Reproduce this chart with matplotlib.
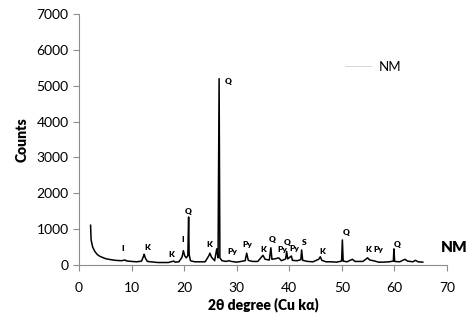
import matplotlib
matplotlib.use("Agg")
import matplotlib.pyplot as plt

# XRD pattern (2theta, counts)
two_theta = [2.2, 2.3, 2.6, 3.0, 3.5, 4.0, 5.0, 6.0, 7.0, 8.0, 8.8, 9.0, 10.0, 11.0,
             11.9, 12.25, 12.4, 12.6, 13.0, 15.0, 17.0, 18.0, 18.3, 19.0, 19.6, 19.85,
             20.1, 20.4, 20.7, 20.85, 20.95, 21.2, 22.0, 24.0, 24.7, 24.9, 25.2, 25.8,
             26.2, 26.45, 26.65, 26.8, 27.2, 28.0, 28.5, 29.0, 30.0, 31.6, 31.9, 32.2,
             33.0, 34.0, 34.7, 35.0, 35.4, 36.2, 36.5, 36.7, 37.5, 38.0, 38.5, 39.3,
             39.5, 39.7, 40.2, 40.4, 40.6, 41.5, 42.2, 42.35, 42.55, 43.5, 44.5, 45.6,
             45.9, 46.2, 47.0, 48.0, 49.0, 49.95, 50.1, 50.25, 51.0, 52.0, 52.5, 54.0,
             54.9, 55.3, 56.0, 57.0, 58.0, 59.0, 59.8, 59.9, 60.05, 61.0, 62.0, 62.5,
             63.5, 64.0, 64.5, 65.4]
counts = [1110, 700, 500, 380, 290, 240, 180, 150, 130, 120, 140, 115, 100, 90,
          110, 240, 300, 200, 100, 70, 70, 110, 80, 90, 220, 400,
          260, 200, 260, 1340, 300, 120, 90, 90, 260, 330, 220, 120,
          450, 200, 5200, 200, 120, 100, 120, 100, 80, 120, 330, 130,
          100, 100, 220, 270, 160, 140, 480, 160, 180, 200, 120, 170,
          380, 170, 230, 250, 130, 120, 150, 420, 130, 100, 90, 160,
          230, 130, 90, 90, 80, 110, 700, 110, 90, 160, 100, 100,
          200, 140, 120, 80, 80, 90, 110, 450, 100, 90, 160, 110,
          90, 130, 90, 80]

# phase labels (text, 2theta, counts)
phase_text = ["I", "K", "K", "I", "Q", "K", "Q", "Py", "Py", "K", "Q", "Py", "Q",
              "Py", "S", "K", "Q", "K", "Py", "Q"]
phase_x = [8.3, 12.9, 17.6, 19.7, 20.8, 24.7, 28.3, 29.2, 32.1, 35.0, 36.7, 38.6,
           39.6, 41.0, 42.8, 46.2, 50.8, 55.1, 57.0, 60.5]
phase_y = [470, 500, 300, 700, 1500, 560, 5120, 390, 560, 420, 700, 420,
           640, 450, 620, 390, 920, 420, 420, 560]

plt.rcParams['font.family'] = ['Lato', 'DejaVu Sans']

fig = plt.figure(figsize=(4.72, 3.28), dpi=100)
ax = fig.add_axes([0.1674, 0.192, 0.7796, 0.765])

ax.plot(two_theta, counts, color="black", linewidth=1.1, label="NM")

for t, x, y in zip(phase_text, phase_x, phase_y):
    ax.text(x, y, t, fontsize=6, fontweight="heavy", ha="center", va="center")

ax.text(71.3, 500, "NM", fontsize=11, fontweight="heavy", ha="center", va="center", clip_on=False)

ax.set_xlim(0, 70)
ax.set_ylim(0, 7000)
ax.set_xticks(range(0, 71, 10))
ax.set_yticks(range(0, 7001, 1000))

for side in ["top", "right"]:
    ax.spines[side].set_visible(False)
for side in ["left", "bottom"]:
    ax.spines[side].set_color("#8c8c8c")
    ax.spines[side].set_linewidth(0.8)
ax.tick_params(axis="both", colors="#8c8c8c", labelcolor="black", labelsize=10, length=4, width=0.8)
ax.tick_params(axis="y", direction="out")
ax.tick_params(axis="x", pad=8)

ax.set_ylabel("Counts", fontsize=10, fontweight="heavy", labelpad=6)
ax.set_xlabel("2θ degree (Cu kα)", fontsize=10, fontweight="heavy", labelpad=3)

leg = ax.legend(loc="upper left", bbox_to_anchor=(0.69, 0.86), frameon=False, fontsize=9.5,
                handlelength=2.0, handletextpad=0.6)
for line in leg.get_lines():
    line.set_color("#d0d0d0")
    line.set_linewidth(0.6)

fig.savefig("out.png", dpi=100)
